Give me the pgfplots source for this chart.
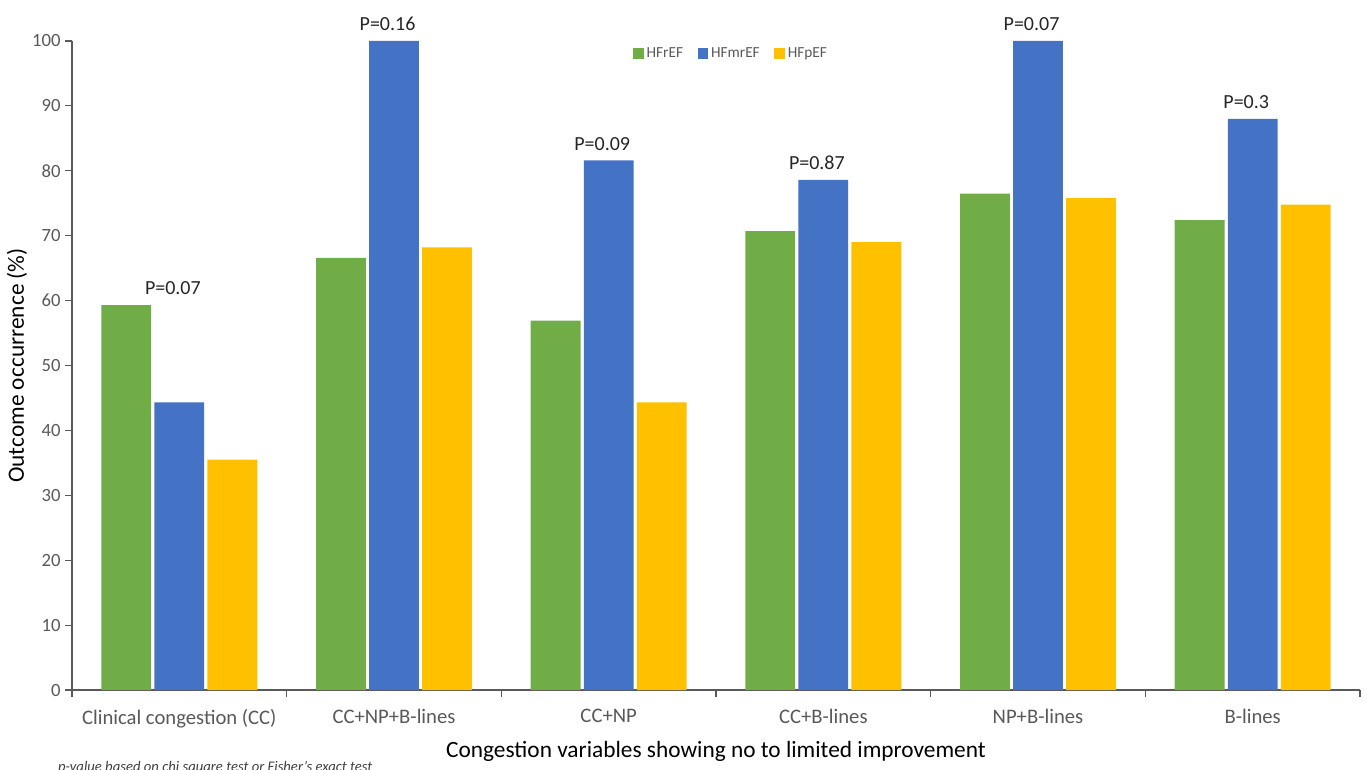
\documentclass[border=0pt]{standalone}
\usepackage{pgfplots}
\pgfplotsset{compat=1.18}
\usepackage{pgfplotstable}
\usepackage{fontspec}
\setmainfont{Carlito}
\definecolor{hfr}{HTML}{70AD47}
\definecolor{hfmr}{HTML}{4472C4}
\definecolor{hfp}{HTML}{FFC000}
\definecolor{txtgray}{HTML}{595959}

\pgfplotstableread{
idx hfref hfmref hfpef
0 59.3 44.3 35.5
1 66.6 100 68.2
2 56.9 81.6 44.3
3 70.7 78.6 69.0
4 76.5 100 75.8
5 72.4 88.0 74.8
}\outcome

\begin{document}
\begin{tikzpicture}
\begin{axis}[
  at={(0,0)}, anchor=south west,
  scale only axis, width=966pt, height=486.75pt,
  xmin=-0.5, xmax=5.5, ymin=0, ymax=100,
  clip=false,
  axis x line*=bottom, axis y line*=left,
  axis line style={black!65, line width=0.8pt, -},
  tick style={black!65, line width=0.8pt},
  tick align=outside, major tick length=5pt,
  xtick={-0.5,0.5,1.5,2.5,3.5,4.5,5.5},
  xticklabels={},
  extra x ticks={0,1,2,3,4,5},
  extra x tick labels={Clinical congestion (CC),CC+NP+B-lines,CC+NP,CC+B-lines,NP+B-lines,B-lines},
  extra x tick style={major tick length=0pt,
    xticklabel style={yshift=-11pt, font=\fontsize{15.5}{18}\selectfont}},
  ytick={0,10,...,100},
  ticklabel style={font=\fontsize{14}{16}\selectfont, text=txtgray},
  /pgf/number format/assume math mode=true,
  xlabel={Congestion variables showing no to limited improvement},
  ylabel={Outcome occurrence (\%)},
  label style={font=\fontsize{17.5}{20}\selectfont},
  xlabel style={yshift=2pt},
  ylabel style={yshift=-3pt},
  ybar, bar width=0.232,
  legend columns=3,
  legend style={at={(0.512,0.981)}, anchor=center, draw=none, fill=none,
    font=\fontsize{11.5}{13}\selectfont, text=txtgray,
    /tikz/every even column/.append style={column sep=9pt}},
  legend image code/.code={\fill[#1] (0pt,-4pt) rectangle (8pt,4pt);},
]
\addplot[fill=hfr, draw=none, bar shift=-0.247] table[x=idx, y=hfref] {\outcome};
\addplot[fill=hfmr, draw=none, bar shift=0] table[x=idx, y=hfmref] {\outcome};
\addplot[fill=hfp, draw=none, bar shift=0.247] table[x=idx, y=hfpef] {\outcome};
\legend{HFrEF,HFmrEF,HFpEF}
\path[font=\fontsize{15}{18}\selectfont, text=black!85]
  (axis cs:-0.03,59.3) node[anchor=south, yshift=4pt] {P=0.07}
  (axis cs:0.97,100) node[anchor=south, yshift=4pt] {P=0.16}
  (axis cs:1.97,81.6) node[anchor=south, yshift=4pt] {P=0.09}
  (axis cs:2.97,78.6) node[anchor=south, yshift=4pt] {P=0.87}
  (axis cs:3.97,100) node[anchor=south, yshift=4pt] {P=0.07}
  (axis cs:4.97,88.0) node[anchor=south, yshift=4pt] {P=0.3};
\end{axis}
\node[anchor=west, font=\fontsize{11}{13}\itshape, text=black!75] at (-14pt,-58.5pt)
  {p-value based on chi square test or Fisher's exact test};
\pgfresetboundingbox
\path (-54pt,-59.25pt) rectangle (971.25pt,517.5pt);
\end{tikzpicture}
\end{document}
